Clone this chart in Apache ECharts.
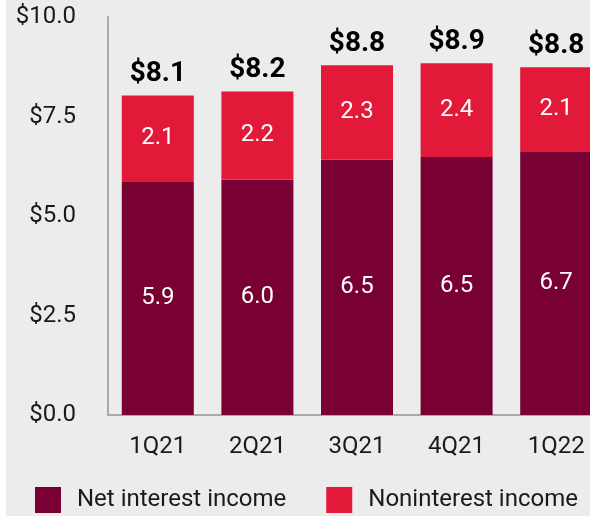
<!DOCTYPE html>
<html>
<head>
<meta charset="utf-8">
<script src="https://cdn.jsdelivr.net/npm/echarts@6/dist/echarts.min.js"></script>
<style>
  html, body { margin: 0; padding: 0; background: #fff; overflow: hidden; }
  #chart { position: absolute; left: 6px; top: 0; width: 620px; height: 516px; background: #ececec; }
</style>
</head>
<body>
<div id="chart"></div>
<script>
const quarters = ['1Q21', '2Q21', '3Q21', '4Q21', '1Q22'];
// bar heights
const netInterest = [5.87, 5.92, 6.42, 6.48, 6.63];
const nonInterest = [2.16, 2.21, 2.37, 2.36, 2.11];
// printed labels
const netLabels = ['5.9', '6.0', '6.5', '6.5', '6.7'];
const nonLabels = ['2.1', '2.2', '2.3', '2.4', '2.1'];
const totalLabels = ['$8.1', '$8.2', '$8.8', '$8.9', '$8.8'];
const totals = netInterest.map((v, i) => v + nonInterest[i]);

const font = 'Roboto';
const chart = echarts.init(document.getElementById('chart'));

chart.setOption({
  animation: false,
  textStyle: { fontFamily: font },
  legend: {
    left: 29,
    top: 487,
    padding: 0,
    itemWidth: 26,
    itemHeight: 26,
    itemGap: 40,
    icon: 'rect',
    textStyle: { fontSize: 24, color: '#1a1a1a', padding: [0, 0, 0, 11], fontFamily: font },
    data: ['Net interest income', 'Noninterest income']
  },
  grid: { left: 102, top: 17, width: 498, height: 398 },
  xAxis: {
    type: 'category',
    data: quarters,
    axisLine: { lineStyle: { color: '#aaaaaa', width: 2 } },
    axisTick: { show: false },
    axisLabel: { fontSize: 24, color: '#1a1a1a', margin: 20, fontFamily: font }
  },
  yAxis: {
    type: 'value',
    min: 0,
    max: 10,
    interval: 2.5,
    splitLine: { show: false },
    axisLine: { show: true, lineStyle: { color: '#aaaaaa', width: 2 } },
    axisTick: { show: false },
    axisLabel: {
      fontSize: 24,
      color: '#1a1a1a',
      margin: 32,
      fontFamily: font,
      formatter: v => '$' + v.toFixed(1)
    }
  },
  series: [
    {
      name: 'Net interest income',
      type: 'bar',
      stack: 'rev',
      barWidth: 72,
      itemStyle: { color: '#780032' },
      label: {
        show: true,
        position: 'inside',
        color: '#fff',
        fontSize: 24,
        fontFamily: font,
        formatter: p => netLabels[p.dataIndex]
      },
      data: netInterest
    },
    {
      name: 'Noninterest income',
      type: 'bar',
      stack: 'rev',
      barWidth: 72,
      itemStyle: { color: '#e3193a' },
      label: {
        show: true,
        position: 'inside',
        color: '#fff',
        fontSize: 24,
        fontFamily: font,
        formatter: p => nonLabels[p.dataIndex]
      },
      data: nonInterest
    },
    {
      name: 'Total',
      type: 'bar',
      barWidth: 72,
      barGap: '-100%',
      z: 0,
      itemStyle: { color: 'transparent' },
      label: {
        show: true,
        position: 'top',
        distance: 7,
        color: '#000',
        fontSize: 28,
        fontWeight: 'bold',
        fontFamily: font,
        formatter: p => totalLabels[p.dataIndex]
      },
      data: totals
    }
  ]
});
</script>
</body>
</html>
